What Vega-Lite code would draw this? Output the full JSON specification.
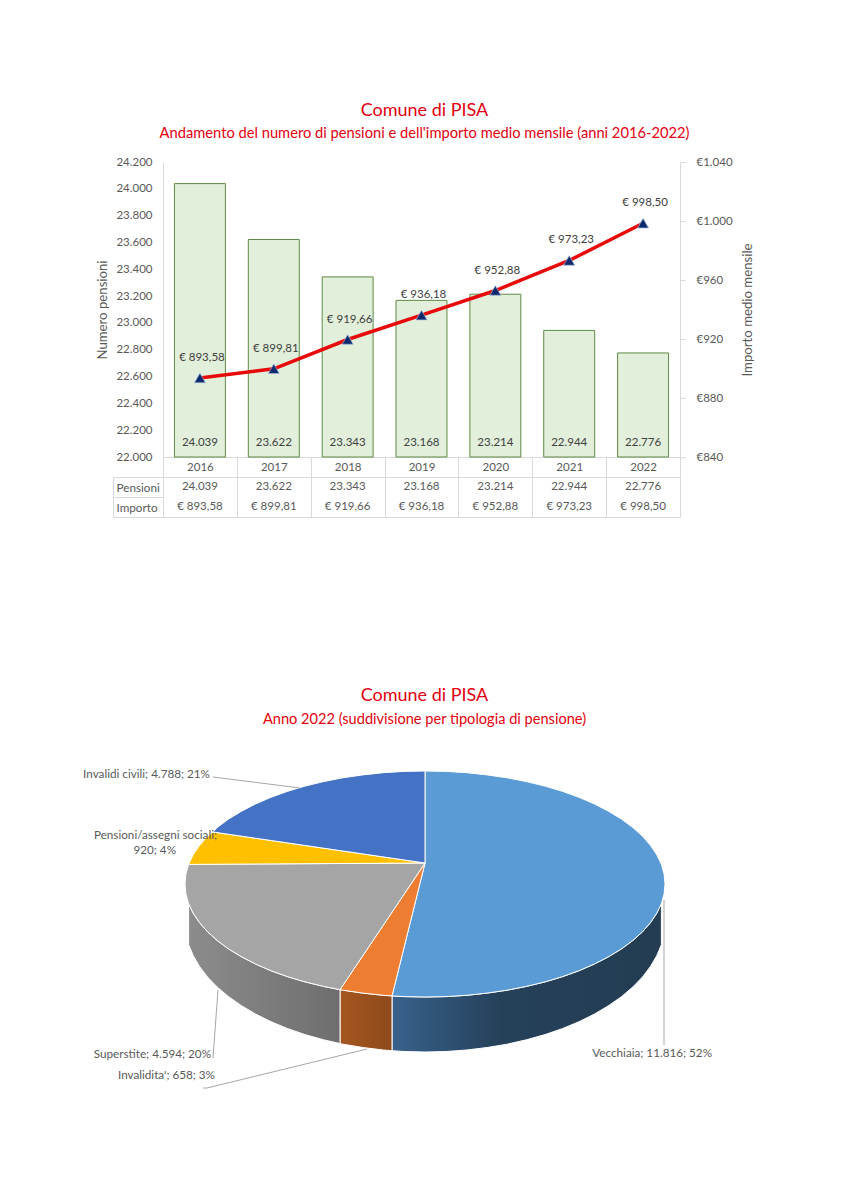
{
"$schema":"https://vega.github.io/schema/vega-lite/v6.json",
"background":"white",
"padding":{"left":83,"top":102,"right":5,"bottom":5},
"config":{"view":{"stroke":null},"font":"Lato","axis":{"labelFont":"Lato","titleFont":"Lato"},"text":{"font":"Lato"}},
"datasets":{
"anni":[
{"anno":"2016","pensioni":24039,"importo":893.58,"etichettaPensioni":"24.039","etichettaImporto":"€ 893,58"},
{"anno":"2017","pensioni":23622,"importo":899.81,"etichettaPensioni":"23.622","etichettaImporto":"€ 899,81"},
{"anno":"2018","pensioni":23343,"importo":919.66,"etichettaPensioni":"23.343","etichettaImporto":"€ 919,66"},
{"anno":"2019","pensioni":23168,"importo":936.18,"etichettaPensioni":"23.168","etichettaImporto":"€ 936,18"},
{"anno":"2020","pensioni":23214,"importo":952.88,"etichettaPensioni":"23.214","etichettaImporto":"€ 952,88"},
{"anno":"2021","pensioni":22944,"importo":973.23,"etichettaPensioni":"22.944","etichettaImporto":"€ 973,23"},
{"anno":"2022","pensioni":22776,"importo":998.50,"etichettaPensioni":"22.776","etichettaImporto":"€ 998,50"}
],
"tabella":[
{"anno":"2016","riga":"Pensioni","testo":"24.039"},{"anno":"2017","riga":"Pensioni","testo":"23.622"},{"anno":"2018","riga":"Pensioni","testo":"23.343"},{"anno":"2019","riga":"Pensioni","testo":"23.168"},{"anno":"2020","riga":"Pensioni","testo":"23.214"},{"anno":"2021","riga":"Pensioni","testo":"22.944"},{"anno":"2022","riga":"Pensioni","testo":"22.776"},
{"anno":"2016","riga":"Importo","testo":"€ 893,58"},{"anno":"2017","riga":"Importo","testo":"€ 899,81"},{"anno":"2018","riga":"Importo","testo":"€ 919,66"},{"anno":"2019","riga":"Importo","testo":"€ 936,18"},{"anno":"2020","riga":"Importo","testo":"€ 952,88"},{"anno":"2021","riga":"Importo","testo":"€ 973,23"},{"anno":"2022","riga":"Importo","testo":"€ 998,50"}
],
"fette":[
{"parte":"Vecchiaia","o":0,"x":0,"y":0},{"parte":"Vecchiaia","o":1,"x":0,"y":92},{"parte":"Vecchiaia","o":2,"x":41.7,"y":90.3},{"parte":"Vecchiaia","o":3,"x":82.1,"y":85.2},{"parte":"Vecchiaia","o":4,"x":120,"y":76.9},{"parte":"Vecchiaia","o":5,"x":154.3,"y":65.6},{"parte":"Vecchiaia","o":6,"x":183.8,"y":51.6},{"parte":"Vecchiaia","o":7,"x":207.8,"y":35.5},{"parte":"Vecchiaia","o":8,"x":225.5,"y":17.6},{"parte":"Vecchiaia","o":9,"x":236.4,"y":-1.4},{"parte":"Vecchiaia","o":10,"x":240,"y":-21},{"parte":"Vecchiaia","o":11,"x":236.4,"y":-40.6},{"parte":"Vecchiaia","o":12,"x":225.5,"y":-59.6},{"parte":"Vecchiaia","o":13,"x":207.8,"y":-77.5},{"parte":"Vecchiaia","o":14,"x":183.8,"y":-93.6},{"parte":"Vecchiaia","o":15,"x":154.3,"y":-107.6},{"parte":"Vecchiaia","o":16,"x":120,"y":-118.9},{"parte":"Vecchiaia","o":17,"x":82.1,"y":-127.2},{"parte":"Vecchiaia","o":18,"x":41.7,"y":-132.3},{"parte":"Vecchiaia","o":19,"x":0,"y":-134},{"parte":"Vecchiaia","o":20,"x":-33,"y":-132.9},{"parte":"Vecchiaia","o":21,"x":0,"y":0},
{"parte":"Vecchiaia","o":1.5,"x":20.9,"y":91.6},{"parte":"Vecchiaia","o":2.5,"x":62.1,"y":88.1},{"parte":"Vecchiaia","o":3.5,"x":101.4,"y":81.4},{"parte":"Vecchiaia","o":4.5,"x":137.7,"y":71.6},{"parte":"Vecchiaia","o":5.5,"x":169.7,"y":58.9},{"parte":"Vecchiaia","o":6.5,"x":196.6,"y":43.8},{"parte":"Vecchiaia","o":7.5,"x":217.5,"y":26.8},{"parte":"Vecchiaia","o":8.5,"x":231.8,"y":8.2},{"parte":"Vecchiaia","o":9.5,"x":239.1,"y":-11.1},{"parte":"Vecchiaia","o":10.5,"x":239.1,"y":-30.9},{"parte":"Vecchiaia","o":11.5,"x":231.8,"y":-50.2},{"parte":"Vecchiaia","o":12.5,"x":217.5,"y":-68.8},{"parte":"Vecchiaia","o":13.5,"x":196.6,"y":-85.8},{"parte":"Vecchiaia","o":14.5,"x":169.7,"y":-100.9},{"parte":"Vecchiaia","o":15.5,"x":137.7,"y":-113.6},{"parte":"Vecchiaia","o":16.5,"x":101.4,"y":-123.4},{"parte":"Vecchiaia","o":17.5,"x":62.1,"y":-130.1},{"parte":"Vecchiaia","o":18.5,"x":20.9,"y":-133.6},{"parte":"Vecchiaia","o":19.5,"x":-20.9,"y":-133.6},
{"parte":"Invalidita'","o":0,"x":0,"y":0},{"parte":"Invalidita'","o":1,"x":-33,"y":-132.9},{"parte":"Invalidita'","o":2,"x":-41.7,"y":-132.3},{"parte":"Invalidita'","o":2.5,"x":-62.1,"y":-130.1},{"parte":"Invalidita'","o":3,"x":-82.1,"y":-127.2},{"parte":"Invalidita'","o":4,"x":-85,"y":-126.7},{"parte":"Invalidita'","o":5,"x":0,"y":0},
{"parte":"Superstite","o":0,"x":0,"y":0},{"parte":"Superstite","o":1,"x":-85,"y":-126.7},{"parte":"Superstite","o":2,"x":-120,"y":-118.9},{"parte":"Superstite","o":3,"x":-154.3,"y":-107.6},{"parte":"Superstite","o":4,"x":-183.8,"y":-93.6},{"parte":"Superstite","o":5,"x":-207.8,"y":-77.5},{"parte":"Superstite","o":6,"x":-225.5,"y":-59.6},{"parte":"Superstite","o":7,"x":-236.4,"y":-40.6},{"parte":"Superstite","o":8,"x":-240,"y":-21},{"parte":"Superstite","o":9,"x":-236.4,"y":-1.4},{"parte":"Superstite","o":10,"x":0,"y":0},
{"parte":"Superstite","o":1.5,"x":-101.4,"y":-123.4},{"parte":"Superstite","o":2.5,"x":-137.7,"y":-113.6},{"parte":"Superstite","o":3.5,"x":-169.7,"y":-100.9},{"parte":"Superstite","o":4.5,"x":-196.6,"y":-85.8},{"parte":"Superstite","o":5.5,"x":-217.5,"y":-68.8},{"parte":"Superstite","o":6.5,"x":-231.8,"y":-50.2},{"parte":"Superstite","o":7.5,"x":-239.1,"y":-30.9},{"parte":"Superstite","o":8.5,"x":-239.1,"y":-11.1},
{"parte":"Pensioni/assegni sociali","o":0,"x":0,"y":0},{"parte":"Pensioni/assegni sociali","o":1,"x":-236.4,"y":-1.4},{"parte":"Pensioni/assegni sociali","o":1.5,"x":-231.8,"y":8.2},{"parte":"Pensioni/assegni sociali","o":2,"x":-225.5,"y":17.6},{"parte":"Pensioni/assegni sociali","o":2.5,"x":-217.5,"y":26.8},{"parte":"Pensioni/assegni sociali","o":3,"x":-212,"y":31},{"parte":"Pensioni/assegni sociali","o":4,"x":0,"y":0},
{"parte":"Invalidi civili","o":0,"x":0,"y":0},{"parte":"Invalidi civili","o":1,"x":-212,"y":31},{"parte":"Invalidi civili","o":2,"x":-207.8,"y":35.5},{"parte":"Invalidi civili","o":3,"x":-183.8,"y":51.6},{"parte":"Invalidi civili","o":4,"x":-154.3,"y":65.6},{"parte":"Invalidi civili","o":5,"x":-120,"y":76.9},{"parte":"Invalidi civili","o":6,"x":-82.1,"y":85.2},{"parte":"Invalidi civili","o":7,"x":-41.7,"y":90.3},{"parte":"Invalidi civili","o":8,"x":0,"y":92},{"parte":"Invalidi civili","o":9,"x":0,"y":0},
{"parte":"Invalidi civili","o":2.5,"x":-196.6,"y":43.8},{"parte":"Invalidi civili","o":3.5,"x":-169.7,"y":58.9},{"parte":"Invalidi civili","o":4.5,"x":-137.7,"y":71.6},{"parte":"Invalidi civili","o":5.5,"x":-101.4,"y":81.4},{"parte":"Invalidi civili","o":6.5,"x":-62.1,"y":88.1},{"parte":"Invalidi civili","o":7.5,"x":-20.9,"y":91.6}
],
"pareti":[
{"parte":"Vecchiaia","o":0,"x":236.4,"y":-40.6},{"parte":"Vecchiaia","o":1,"x":225.5,"y":-59.6},{"parte":"Vecchiaia","o":2,"x":207.8,"y":-77.5},{"parte":"Vecchiaia","o":3,"x":183.8,"y":-93.6},{"parte":"Vecchiaia","o":4,"x":154.3,"y":-107.6},{"parte":"Vecchiaia","o":5,"x":120,"y":-118.9},{"parte":"Vecchiaia","o":6,"x":82.1,"y":-127.2},{"parte":"Vecchiaia","o":7,"x":41.7,"y":-132.3},{"parte":"Vecchiaia","o":8,"x":0,"y":-134},{"parte":"Vecchiaia","o":9,"x":-33,"y":-132.9},{"parte":"Vecchiaia","o":10,"x":-33,"y":-187.7},{"parte":"Vecchiaia","o":11,"x":0,"y":-189},{"parte":"Vecchiaia","o":12,"x":41.7,"y":-187},{"parte":"Vecchiaia","o":13,"x":82.1,"y":-181.2},{"parte":"Vecchiaia","o":14,"x":120,"y":-171.6},{"parte":"Vecchiaia","o":15,"x":154.3,"y":-158.6},{"parte":"Vecchiaia","o":16,"x":183.8,"y":-142.5},{"parte":"Vecchiaia","o":17,"x":207.8,"y":-124},{"parte":"Vecchiaia","o":18,"x":225.5,"y":-103.4},{"parte":"Vecchiaia","o":19,"x":236.4,"y":-81.6},{"parte":"Vecchiaia","o":20,"x":236.4,"y":-40.6},
{"parte":"Vecchiaia","o":0.5,"x":231.8,"y":-50.2},{"parte":"Vecchiaia","o":1.5,"x":217.5,"y":-68.8},{"parte":"Vecchiaia","o":2.5,"x":196.6,"y":-85.8},{"parte":"Vecchiaia","o":3.5,"x":169.7,"y":-100.9},{"parte":"Vecchiaia","o":4.5,"x":137.7,"y":-113.6},{"parte":"Vecchiaia","o":5.5,"x":101.4,"y":-123.4},{"parte":"Vecchiaia","o":6.5,"x":62.1,"y":-130.1},{"parte":"Vecchiaia","o":7.5,"x":20.9,"y":-133.6},{"parte":"Vecchiaia","o":8.5,"x":-20.9,"y":-133.6},
{"parte":"Vecchiaia","o":10.5,"x":-20.9,"y":-188.5},{"parte":"Vecchiaia","o":11.5,"x":20.9,"y":-188.5},{"parte":"Vecchiaia","o":12.5,"x":62.1,"y":-184.5},{"parte":"Vecchiaia","o":13.5,"x":101.4,"y":-176.8},{"parte":"Vecchiaia","o":14.5,"x":137.7,"y":-165.5},{"parte":"Vecchiaia","o":15.5,"x":169.7,"y":-150.9},{"parte":"Vecchiaia","o":16.5,"x":196.6,"y":-133.6},{"parte":"Vecchiaia","o":17.5,"x":217.5,"y":-114},{"parte":"Vecchiaia","o":18.5,"x":231.8,"y":-92.6},
{"parte":"Invalidita'","o":0,"x":-33,"y":-132.9},{"parte":"Invalidita'","o":1,"x":-41.7,"y":-132.3},{"parte":"Invalidita'","o":1.5,"x":-62.1,"y":-130.1},{"parte":"Invalidita'","o":2,"x":-82.1,"y":-127.2},{"parte":"Invalidita'","o":3,"x":-85,"y":-126.7},{"parte":"Invalidita'","o":4,"x":-85,"y":-180.6},{"parte":"Invalidita'","o":5,"x":-82.1,"y":-181.2},{"parte":"Invalidita'","o":5.5,"x":-62.1,"y":-184.5},{"parte":"Invalidita'","o":6,"x":-41.7,"y":-187},{"parte":"Invalidita'","o":7,"x":-33,"y":-187.7},{"parte":"Invalidita'","o":8,"x":-33,"y":-132.9},
{"parte":"Superstite","o":0,"x":-85,"y":-126.7},{"parte":"Superstite","o":1,"x":-120,"y":-118.9},{"parte":"Superstite","o":2,"x":-154.3,"y":-107.6},{"parte":"Superstite","o":3,"x":-183.8,"y":-93.6},{"parte":"Superstite","o":4,"x":-207.8,"y":-77.5},{"parte":"Superstite","o":5,"x":-225.5,"y":-59.6},{"parte":"Superstite","o":6,"x":-236.4,"y":-40.6},{"parte":"Superstite","o":7,"x":-236.4,"y":-81.6},{"parte":"Superstite","o":8,"x":-225.5,"y":-103.4},{"parte":"Superstite","o":9,"x":-207.8,"y":-124},{"parte":"Superstite","o":10,"x":-183.8,"y":-142.5},{"parte":"Superstite","o":11,"x":-154.3,"y":-158.6},{"parte":"Superstite","o":12,"x":-120,"y":-171.6},{"parte":"Superstite","o":13,"x":-85,"y":-180.6},{"parte":"Superstite","o":14,"x":-85,"y":-126.7},
{"parte":"Superstite","o":0.5,"x":-101.4,"y":-123.4},{"parte":"Superstite","o":1.5,"x":-137.7,"y":-113.6},{"parte":"Superstite","o":2.5,"x":-169.7,"y":-100.9},{"parte":"Superstite","o":3.5,"x":-196.6,"y":-85.8},{"parte":"Superstite","o":4.5,"x":-217.5,"y":-68.8},{"parte":"Superstite","o":5.5,"x":-231.8,"y":-50.2},{"parte":"Superstite","o":7.5,"x":-231.8,"y":-92.6},{"parte":"Superstite","o":8.5,"x":-217.5,"y":-114},{"parte":"Superstite","o":9.5,"x":-196.6,"y":-133.6},{"parte":"Superstite","o":10.5,"x":-169.7,"y":-150.9},{"parte":"Superstite","o":11.5,"x":-137.7,"y":-165.5},{"parte":"Superstite","o":12.5,"x":-101.4,"y":-176.8}
],
"guide":[
{"g":"Invalidi civili","o":0,"x":-212,"y":86},{"g":"Invalidi civili","o":1,"x":-125,"y":75},
{"g":"Superstite","o":0,"x":-207,"y":-127},{"g":"Superstite","o":1,"x":-212,"y":-195},
{"g":"Invalidita'","o":0,"x":-58,"y":-186},{"g":"Invalidita'","o":1,"x":-218,"y":-225},{"g":"Invalidita'","o":2,"x":-222,"y":-225},
{"g":"Vecchiaia","o":0,"x":239,"y":-37},{"g":"Vecchiaia","o":1,"x":239,"y":-182}
],
"etichette":[
{"testo":"Invalidi civili; 4.788; 21%","x":-215,"y":89},
{"testo":"Pensioni/assegni sociali;","x":-208,"y":28},
{"testo":"920; 4%","x":-249,"y":13},
{"testo":"Superstite; 4.594; 20%","x":-214,"y":-191},
{"testo":"Invalidita'; 658; 3%","x":-210,"y":-212},
{"testo":"Vecchiaia; 11.816; 52%","x":287,"y":-190}
]
},
"vconcat":[
{"spacing":20,"bounds":"flush","vconcat":[
{"width":517,"height":295,
"title":{"text":"Comune di PISA","subtitle":"Andamento del numero di pensioni e dell'importo medio mensile (anni 2016-2022)","font":"Lato","subtitleFont":"Lato","fontSize":18,"subtitleFontSize":14.7,"fontWeight":"normal","subtitleFontWeight":"normal","color":"#E3000F","subtitleColor":"#E3000F","anchor":"middle","dx":3,"offset":15,"subtitlePadding":6},
"data":{"name":"anni"},
"encoding":{"x":{"field":"anno","type":"ordinal","scale":{"type":"band","paddingInner":0,"paddingOuter":0},"axis":{"title":null,"labelAngle":0,"tickBand":"extent","tickSize":20,"tickColor":"#d9d9d9","domainColor":"#d9d9d9","labelColor":"#595959","labelFontSize":11.5,"labelBaseline":"middle","labelPadding":-10}}},
"layer":[
{"layer":[
{"mark":{"type":"bar","fill":"#E2EFDA","stroke":"#5F8A45","strokeWidth":1,"width":{"band":0.69}},
"encoding":{"y":{"field":"pensioni","type":"quantitative","scale":{"domain":[22000,24200],"nice":false,"zero":false},"axis":{"title":"Numero pensioni","values":[22000,22200,22400,22600,22800,23000,23200,23400,23600,23800,24000,24200],"labelOverlap":false,"labelExpr":"replace(format(datum.value,','),',','.')","grid":false,"ticks":false,"domainColor":"#d9d9d9","labelColor":"#595959","labelFontSize":11.5,"labelPadding":11,"titleColor":"#595959","titleFontSize":13.2,"titleFontWeight":"normal","titlePadding":6}},"y2":{"datum":22000}}},
{"mark":{"type":"text","dy":-14,"fontSize":11.5,"color":"#404040"},
"encoding":{"y":{"datum":22000,"type":"quantitative","axis":{"title":"Numero pensioni","values":[22000,22200,22400,22600,22800,23000,23200,23400,23600,23800,24000,24200],"labelOverlap":false,"labelExpr":"replace(format(datum.value,','),',','.')","grid":false,"ticks":false,"domainColor":"#d9d9d9","labelColor":"#595959","labelFontSize":11.5,"labelPadding":11,"titleColor":"#595959","titleFontSize":13.2,"titleFontWeight":"normal","titlePadding":6}},"text":{"field":"etichettaPensioni"}}}
]},
{"encoding":{"y":{"field":"importo","type":"quantitative","scale":{"domain":[840,1040],"nice":false,"zero":false},"axis":{"orient":"right","title":"Importo medio mensile","titleAngle":270,"values":[840,880,920,960,1000,1040],"labelOverlap":false,"labelExpr":"'€'+replace(format(datum.value,','),',','.')","grid":false,"tickColor":"#d9d9d9","tickSize":5,"domainColor":"#d9d9d9","labelColor":"#595959","labelFontSize":11.5,"labelPadding":11,"titleColor":"#595959","titleFontSize":13.2,"titleFontWeight":"normal","titlePadding":22}}},
"layer":[
{"mark":{"type":"line","color":"#E60A0A","strokeWidth":3.5}},
{"mark":{"type":"point","shape":"triangle-up","filled":true,"size":120,"fill":"#0B2A6B","stroke":"#9DB4DC","strokeWidth":0.7,"opacity":1}},
{"mark":{"type":"text","dy":-20,"dx":2,"fontSize":11.5,"color":"#404040"},"encoding":{"text":{"field":"etichettaImporto"}}}
]}
],
"resolve":{"scale":{"y":"independent"}}
},
{"width":517,"height":40,
"view":{"stroke":"#d9d9d9"},
"data":{"name":"tabella"},
"mark":{"type":"text","fontSize":11.5,"color":"#595959"},
"encoding":{"text":{"field":"testo"},
"x":{"field":"anno","type":"ordinal","scale":{"type":"band"},"axis":{"title":null,"labels":false,"ticks":false,"domain":false,"grid":true,"gridColor":"#d9d9d9","tickBand":"extent"}},
"y":{"field":"riga","type":"nominal","sort":["Pensioni","Importo"],"scale":{"type":"band"},"axis":{"title":null,"tickBand":"extent","offset":50,"tickSize":-50,"tickColor":"#d9d9d9","domain":true,"domainColor":"#d9d9d9","labelAlign":"left","labelPadding":47,"labelColor":"#595959","labelFontSize":11.7}}}
}
]},
{"width":517,"height":360,
"title":{"text":"Comune di PISA","subtitle":"Anno 2022 (suddivisione per tipologia di pensione)","font":"Lato","subtitleFont":"Lato","fontSize":18,"subtitleFontSize":14.6,"fontWeight":"normal","subtitleFontWeight":"normal","color":"#E3000F","subtitleColor":"#E3000F","anchor":"middle","dx":3,"offset":13,"subtitlePadding":7},
"layer":[
{"data":{"name":"pareti"},"transform":[{"filter":"datum.parte==='Vecchiaia'"}],
"mark":{"type":"line","stroke":"white","strokeWidth":1,"fill":{"gradient":"linear","x1":0,"x2":1,"y1":0,"y2":0,"stops":[{"offset":0,"color":"#38618C"},{"offset":0.4,"color":"#25415A"},{"offset":1,"color":"#233C52"}]}},
"encoding":{"x":{"field":"x","type":"quantitative","scale":{"domain":[-262,255],"nice":false,"zero":false},"axis":null},"y":{"field":"y","type":"quantitative","scale":{"domain":[-237,123],"nice":false,"zero":false},"axis":null},"order":{"field":"o"}}},
{"data":{"name":"pareti"},"transform":[{"filter":"datum.parte==='Invalidita\\''"}],
"mark":{"type":"line","stroke":"white","strokeWidth":1,"fill":{"gradient":"linear","x1":0,"x2":1,"y1":0,"y2":0,"stops":[{"offset":0,"color":"#A5561F"},{"offset":1,"color":"#8E4A1B"}]}},
"encoding":{"x":{"field":"x","type":"quantitative"},"y":{"field":"y","type":"quantitative"},"order":{"field":"o"}}},
{"data":{"name":"pareti"},"transform":[{"filter":"datum.parte==='Superstite'"}],
"mark":{"type":"line","stroke":"white","strokeWidth":1,"fill":{"gradient":"linear","x1":0,"x2":1,"y1":0,"y2":0,"stops":[{"offset":0,"color":"#8C8C8C"},{"offset":1,"color":"#6E6E6E"}]}},
"encoding":{"x":{"field":"x","type":"quantitative"},"y":{"field":"y","type":"quantitative"},"order":{"field":"o"}}},
{"data":{"name":"fette"},
"mark":{"type":"line","stroke":"white","strokeWidth":1},
"encoding":{"x":{"field":"x","type":"quantitative"},"y":{"field":"y","type":"quantitative"},"order":{"field":"o"},
"fill":{"field":"parte","type":"nominal","legend":null,"scale":{"domain":["Vecchiaia","Invalidita'","Superstite","Pensioni/assegni sociali","Invalidi civili"],"range":["#5B9BD5","#ED7D31","#A5A5A5","#FFC000","#4472C4"]}}}},
{"data":{"name":"guide"},
"mark":{"type":"line","stroke":"#A6A6A6","strokeWidth":1},
"encoding":{"x":{"field":"x","type":"quantitative"},"y":{"field":"y","type":"quantitative"},"order":{"field":"o"},"detail":{"field":"g"}}},
{"data":{"name":"etichette"},
"mark":{"type":"text","align":"right","baseline":"middle","fontSize":11.7,"color":"#595959","clip":false},
"encoding":{"x":{"field":"x","type":"quantitative"},"y":{"field":"y","type":"quantitative"},"text":{"field":"testo"}}}
]
}
],
"spacing":169
}
